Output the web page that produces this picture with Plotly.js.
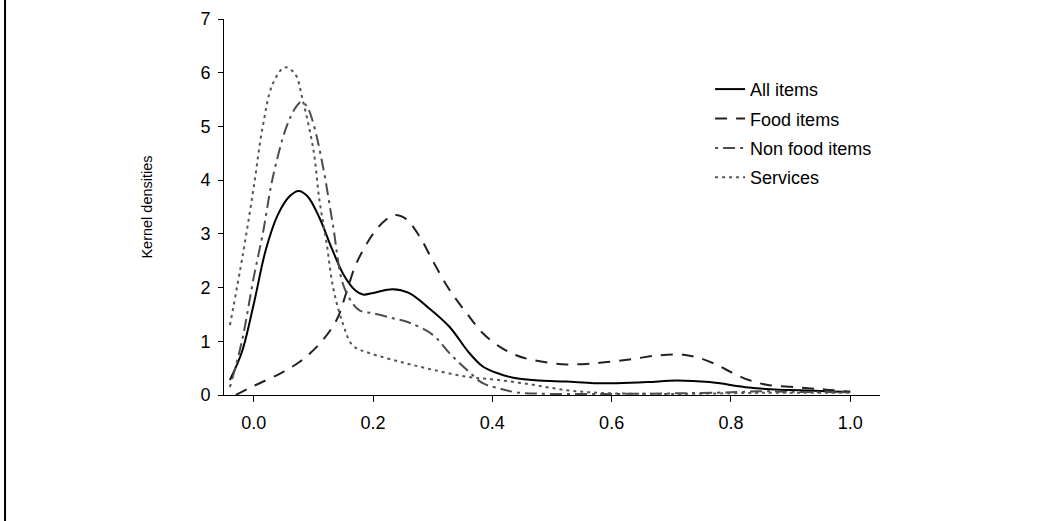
<!DOCTYPE html>
<html>
<head>
<meta charset="utf-8">
<script src="https://cdn.plot.ly/plotly-3.0.1.min.js"></script>
<style>
  html, body { margin: 0; padding: 0; background: #fff; }
  #chart { width: 1060px; height: 521px; }
</style>
</head>
<body>
<div id="chart"></div>
<script>
// Share of expenditure (x) and kernel density values
const allX   = [-0.04, -0.02, 0.0, 0.02, 0.04, 0.06, 0.075, 0.09, 0.11, 0.13, 0.15, 0.17, 0.183, 0.2, 0.233, 0.26, 0.29, 0.328, 0.36, 0.384, 0.41, 0.44, 0.48, 0.524, 0.57, 0.608, 0.66, 0.709, 0.764, 0.83, 0.88, 0.915, 0.96, 1.0];
const allY   = [0.28, 0.8, 1.7, 2.7, 3.35, 3.7, 3.8, 3.7, 3.3, 2.75, 2.25, 1.95, 1.87, 1.9, 1.97, 1.9, 1.65, 1.27, 0.8, 0.53, 0.4, 0.31, 0.27, 0.25, 0.22, 0.22, 0.24, 0.27, 0.24, 0.14, 0.1, 0.09, 0.07, 0.06];

const foodX  = [-0.03, 0.0, 0.044, 0.077, 0.11, 0.139, 0.155, 0.172, 0.2, 0.22, 0.236, 0.255, 0.278, 0.3, 0.328, 0.357, 0.384, 0.412, 0.44, 0.468, 0.524, 0.58, 0.635, 0.68, 0.72, 0.747, 0.775, 0.803, 0.83, 0.86, 0.915, 0.96, 1.0];
const foodY  = [0.0, 0.17, 0.4, 0.62, 0.95, 1.4, 1.9, 2.45, 3.0, 3.25, 3.35, 3.28, 2.95, 2.5, 1.96, 1.52, 1.15, 0.9, 0.74, 0.65, 0.57, 0.6, 0.67, 0.74, 0.75, 0.69, 0.57, 0.41, 0.28, 0.19, 0.14, 0.1, 0.06];

const nonX   = [-0.04, -0.02, 0.0, 0.015, 0.032, 0.055, 0.07, 0.08, 0.09, 0.1, 0.116, 0.133, 0.149, 0.166, 0.178, 0.2, 0.233, 0.26, 0.3, 0.328, 0.357, 0.384, 0.412, 0.44, 0.5, 0.6, 0.7, 0.8, 0.85, 0.9, 1.0];
const nonY   = [0.15, 1.0, 2.2, 3.0, 4.06, 5.0, 5.35, 5.46, 5.35, 5.05, 4.25, 3.14, 2.08, 1.7, 1.57, 1.52, 1.43, 1.35, 1.12, 0.78, 0.47, 0.22, 0.12, 0.05, 0.02, 0.02, 0.03, 0.05, 0.07, 0.06, 0.05];

const servX  = [-0.04, -0.018, 0.0, 0.015, 0.032, 0.052, 0.069, 0.082, 0.1, 0.11, 0.122, 0.133, 0.149, 0.166, 0.194, 0.245, 0.3, 0.357, 0.41, 0.468, 0.524, 0.58, 0.7, 0.85, 1.0];
const servY  = [1.3, 2.64, 3.88, 5.0, 5.8, 6.1, 5.98, 5.49, 4.56, 3.63, 2.83, 2.0, 1.34, 0.92, 0.78, 0.62, 0.47, 0.34, 0.28, 0.19, 0.09, 0.04, 0.02, 0.04, 0.04];

const seriesNames = ["All items", "Food items", "Non food items", "Services"];
const xTickVals = [0.0, 0.2, 0.4, 0.6, 0.8, 1.0];
const xTickText = ["0.0", "0.2", "0.4", "0.6", "0.8", "1.0"];
const yTickVals = [0, 1, 2, 3, 4, 5, 6, 7];

const traces = [
  {x: allX, y: allY, name: seriesNames[0], legendgroup: "a",
   line: {color: "#000000", width: 2, dash: "solid", shape: "spline", smoothing: 1}},
  {x: foodX, y: foodY, name: seriesNames[1], legendgroup: "b",
   line: {color: "#222222", width: 2, dash: "12px,9px", shape: "spline", smoothing: 1}},
  {x: nonX, y: nonY, name: seriesNames[2], legendgroup: "c",
   line: {color: "#4d4d4d", width: 2, dash: "3px,5px,12px,5px", shape: "spline", smoothing: 1}},
  {x: servX, y: servY, name: seriesNames[3], legendgroup: "d",
   line: {color: "#555555", width: 2, dash: "3px,4px", shape: "spline", smoothing: 1}}
].map(t => Object.assign({type: "scatter", mode: "lines", hoverinfo: "skip"}, t));

const layout = {
  width: 1060, height: 521,
  margin: {l: 224, r: 180, t: 19, b: 126},
  paper_bgcolor: "#ffffff", plot_bgcolor: "#ffffff",
  font: {family: "Liberation Sans, Arial, sans-serif", color: "#000000", size: 18},
  showlegend: true,
  legend: {x: 0.741, y: 0.862, xanchor: "left", yanchor: "top",
           font: {size: 18, color: "#000"}, bgcolor: "rgba(0,0,0,0)",
           tracegroupgap: 3, itemwidth: 30},
  xaxis: {range: [-0.05, 1.05], tickvals: xTickVals, ticktext: xTickText,
          showgrid: false, zeroline: false, showline: true, linecolor: "#000", linewidth: 1,
          ticks: "outside", ticklen: 6, tickcolor: "#000", tickfont: {size: 18},
          ticklabelstandoff: 5},
  yaxis: {range: [0, 7], tickvals: yTickVals, showgrid: false, zeroline: false,
          showline: true, linecolor: "#000", linewidth: 1,
          ticks: "outside", ticklen: 5, tickcolor: "#000", tickfont: {size: 18},
          ticklabelstandoff: 4,
          title: {text: "Kernel densities", font: {size: 14.5}, standoff: 44}},
  shapes: [
    {type: "line", xref: "paper", yref: "paper", x0: -0.3338, x1: -0.3338, y0: -0.34, y1: 1.06,
     line: {color: "#000", width: 2}}
  ]
};

Plotly.newPlot("chart", traces, layout, {displayModeBar: false, staticPlot: true});
</script>
</body>
</html>
